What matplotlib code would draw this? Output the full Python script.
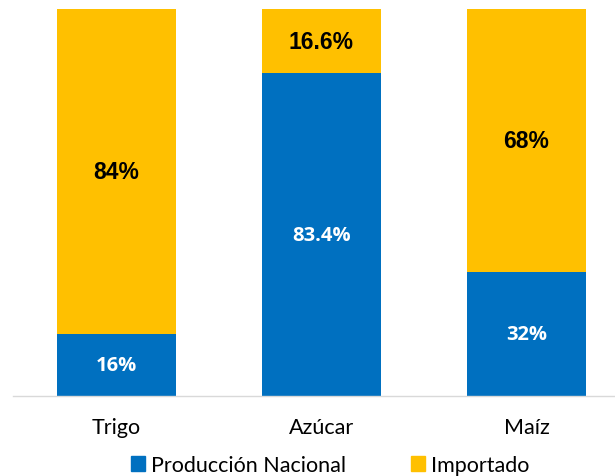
import matplotlib
matplotlib.use("Agg")
import matplotlib.pyplot as plt
from matplotlib.patches import Patch

categories = ["Trigo", "Azúcar", "Maíz"]
nacional = [16, 83.4, 32]
importado = [84, 16.6, 68]
nacional_labels = ["16%", "83.4%", "32%"]
importado_labels = ["84%", "16.6%", "68%"]

blue = "#0070C0"
yellow = "#FFC000"

fig = plt.figure(figsize=(6.15, 4.77), dpi=100)
ax = fig.add_axes([13/615, 1 - 397/477, 1 - 13/615, (397 - 10)/477])

x = range(len(categories))
ax.bar(x, nacional, width=0.58, color=blue)
ax.bar(x, importado, width=0.58, bottom=nacional, color=yellow)

for i in x:
    ax.text(i, nacional[i] / 2, nacional_labels[i], ha="center", va="center",
            color="white", fontsize=14.5, fontweight="bold", family="Open Sans")
    ax.text(i, nacional[i] + importado[i] / 2, importado_labels[i], ha="center", va="center",
            color="black", fontsize=16.5, fontweight="bold", family="Liberation Sans")

ax.set_xlim(-0.505, 2.432)
ax.set_ylim(0, 100)
for s in ["top", "right", "left"]:
    ax.spines[s].set_visible(False)
ax.spines["bottom"].set_color("#D9D9D9")
ax.spines["bottom"].set_linewidth(1)
ax.set_yticks([])
ax.set_xticks(list(x))
ax.set_xticklabels(categories, fontsize=15.5, family="Lato")
ax.tick_params(axis="x", length=0, pad=15)

handles = [Patch(color=blue, label="Producción Nacional"),
           Patch(color=yellow, label="Importado")]
fig.legend(handles=handles, loc="center", bbox_to_anchor=(330/615, 1 - 466/477),
           ncol=2, frameon=False, prop={"family": "Lato", "size": 15.5},
           handlelength=0.65, handleheight=0.65, handletextpad=0.3, columnspacing=3.0)

fig.savefig("out.png", dpi=100)
